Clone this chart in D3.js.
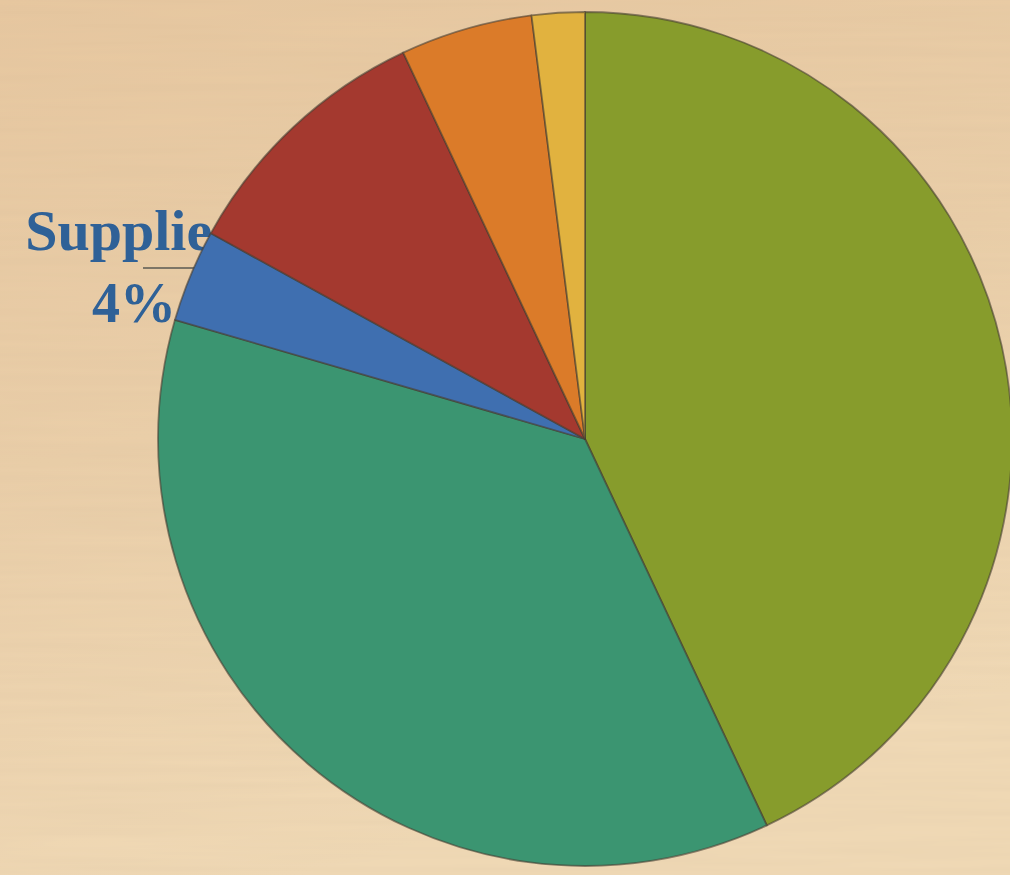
<!DOCTYPE html>
<html>
<head>
<meta charset="utf-8">
<script src="https://cdn.jsdelivr.net/npm/d3@7"></script>
<style>
  html, body { margin: 0; padding: 0; background: #ecd1aa; }
  svg { display: block; }
</style>
</head>
<body>
<svg id="chart" width="1010" height="875"></svg>
<script>
// Budget shares, clockwise from 12 o'clock
const categories = ["Salaries", "Programs", "Supplies", "Facilities", "Travel", "Other"];
const shares     = [43, 36.5, 3.5, 10, 5, 2];
const colors     = ["#879c2c", "#3b9571", "#3f6fb0", "#a4392f", "#db7b29", "#e1b23f"];
// Only the Supplies slice carries a callout
const labelled   = ["Supplies"];

const W = 1010, H = 875;
const cx = 585, cy = 439, R = 427;

const svg = d3.select("#chart");
const defs = svg.append("defs");

// paper background: warm gradient plus a faint horizontal grain
const bg = defs.append("linearGradient").attr("id", "paper")
  .attr("x1", 0).attr("y1", 0).attr("x2", 0.3).attr("y2", 1);
bg.append("stop").attr("offset", 0).attr("stop-color", "#e8c8a0");
bg.append("stop").attr("offset", 0.5).attr("stop-color", "#ebcfa9");
bg.append("stop").attr("offset", 1).attr("stop-color", "#f1dab6");

const grain = defs.append("filter").attr("id", "grain")
  .attr("x", 0).attr("y", 0).attr("width", "100%").attr("height", "100%");
grain.append("feTurbulence").attr("type", "fractalNoise")
  .attr("baseFrequency", "0.004 0.12").attr("numOctaves", 2).attr("seed", 7).attr("result", "n");
grain.append("feColorMatrix").attr("in", "n").attr("type", "matrix")
  .attr("values", "0 0 0 0 0.55  0 0 0 0 0.42  0 0 0 0 0.28  0 0 0 0.14 0");

svg.append("rect").attr("width", W).attr("height", H).attr("fill", "url(#paper)");
svg.append("rect").attr("width", W).attr("height", H).attr("filter", "url(#grain)");

const pie = d3.pie().sort(null).value(d => d.v);
const arcs = pie(categories.map((c, i) => ({ c, v: shares[i], col: colors[i] })));
const arc = d3.arc().innerRadius(0).outerRadius(R);

const total = d3.sum(shares);

// callout labels sit behind the pie
const labelG = svg.append("g").attr("class", "labels");
const font = "'Liberation Serif', 'DejaVu Serif', serif";
arcs.filter(a => labelled.includes(a.data.c)).forEach(a => {
  const pct = Math.round(a.data.v / total * 100) + "%";
  const tx = 130, ty = 250;
  labelG.append("line")
    .attr("x1", 143).attr("x2", 230)
    .attr("y1", ty + 18).attr("y2", ty + 18)
    .attr("stroke", "#7d7566").attr("stroke-width", 2);
  labelG.append("text")
    .attr("x", tx).attr("y", ty)
    .attr("text-anchor", "middle")
    .attr("font-family", font)
    .attr("font-weight", "bold")
    .attr("font-size", 58)
    .attr("fill", "#2f6197")
    .text(a.data.c);
  labelG.append("text")
    .attr("x", tx + 4).attr("y", ty + 72)
    .attr("text-anchor", "middle")
    .attr("font-family", font)
    .attr("font-weight", "bold")
    .attr("font-size", 56)
    .attr("fill", "#2f6197")
    .text(pct);
});

const g = svg.append("g").attr("transform", `translate(${cx},${cy})`);
g.selectAll("path.slice")
  .data(arcs)
  .join("path")
  .attr("class", "slice")
  .attr("d", arc)
  .attr("fill", d => d.data.col)
  .attr("stroke", "rgba(70,62,50,0.6)")
  .attr("stroke-width", 1.8)
  .attr("stroke-linejoin", "round");
</script>
</body>
</html>
